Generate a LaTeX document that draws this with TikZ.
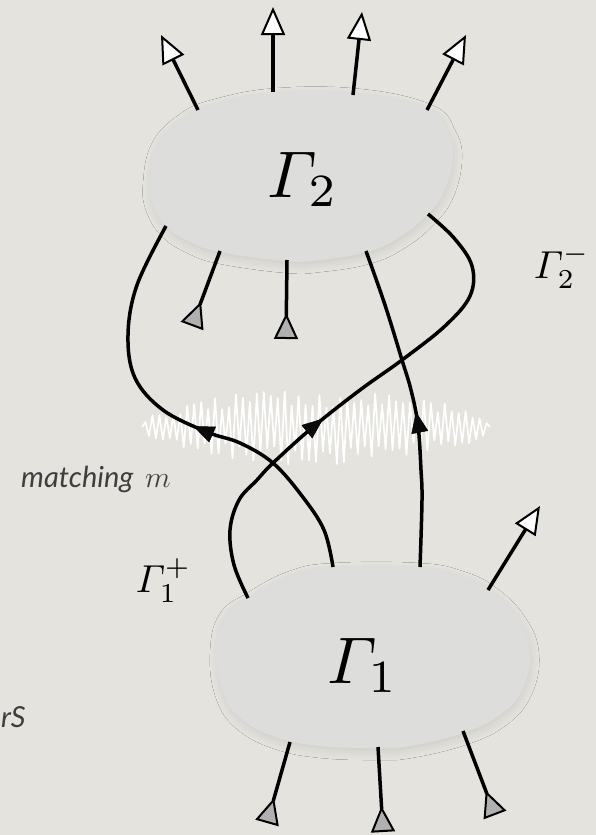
\documentclass[tikz,border=0pt]{standalone}
\usepackage{fontspec}
\newfontfamily\labelfont{Lato}
\usetikzlibrary{arrows.meta,decorations.markings,shadows.blur}
\DeclareMathSymbol{\GammaIt}{\mathord}{letters}{"00}
\definecolor{paper}{RGB}{229,227,221}
\definecolor{blobfill}{RGB}{221,221,220}
\definecolor{trigray}{RGB}{176,176,176}
\definecolor{textgray}{RGB}{62,62,62}
\tikzset{
  wire/.style={line width=3.5pt},
  outarrow/.style={wire, -{Triangle[fill=white, line width'=2pt, length=28pt, width=24pt]}},
  inarrow/.style={wire, -{Triangle[reversed, fill=trigray, line width'=2pt, length=26pt, width=24pt]}},
  flowcurve/.style={wire, postaction={decorate}, decoration={markings, mark=at position #1 with {\arrow{Triangle[length=21pt,width=17pt,line width'=0.5pt]}}}},
  blob/.style={fill=blobfill, blur shadow={shadow xshift=1pt, shadow yshift=-4pt, shadow blur radius=8pt, shadow opacity=9}},
  biglabel/.style={scale=6.6, inner sep=0pt},
  smalllabel/.style={scale=3.9, inner sep=0pt},
  sidetext/.style={inner sep=0pt, text=textgray, font=\labelfont\itshape\fontsize{29}{34}\selectfont},
}
\begin{document}
\begin{tikzpicture}[x=1pt,y=-1pt]
\useasboundingbox (0,0) rectangle (596,835);
\fill[paper] (0,0) rectangle (596,835);

% matching noise
\pgfmathsetseed{7}
\draw[white, line width=1.7pt, line join=round]
  plot[domain=0:100, samples=101]
  ({142+3.48*\x}, {427 + (1-2*mod(round(\x),2))*38*sqrt(abs(sin(1.8*\x)))*(0.5+0.5*rnd)});

% blobs
\fill[blob] plot[smooth cycle, tension=0.7] coordinates {(150,180) (158,143) (183,117) (215,103) (277,92) (360,93) (427,108) (447,130) (453,155) (445,190) (427,215) (400,237) (367,252) (320,260) (285,261) (220,252) (190,242) (167,227) (153,205)};
\fill[blob] plot[smooth cycle, tension=0.7] coordinates {(217,650) (225,615) (250,596) (290,575) (333,567) (418,567) (460,575) (490,590) (517,617) (530,650) (523,688) (500,715) (463,733) (410,746) (377,748) (320,746) (275,737) (240,718) (222,690)};

% ports of Gamma_2
\coordinate (p2t1) at (198,110); \coordinate (e2t1) at (161,35);
\coordinate (p2t2) at (273,92);  \coordinate (e2t2) at (273,7);
\coordinate (p2t3) at (353,95);  \coordinate (e2t3) at (362,12);
\coordinate (p2t4) at (427,110); \coordinate (e2t4) at (466,35);
\coordinate (p2b1) at (220,251); \coordinate (e2b1) at (192,326);
\coordinate (p2b2) at (287,260); \coordinate (e2b2) at (286,339);
\coordinate (g2a) at (166,226);
\coordinate (g2b) at (428,214);
\coordinate (g2c) at (366,251);
% ports of Gamma_1
\coordinate (g1a) at (333,567);
\coordinate (g1b) at (248,598);
\coordinate (g1c) at (420,567);
\coordinate (p1o) at (488,590); \coordinate (e1o) at (540,506);
\coordinate (p1b1) at (290,742); \coordinate (e1b1) at (267,823);
\coordinate (p1b2) at (378,747); \coordinate (e1b2) at (383,832);
\coordinate (p1b3) at (463,731); \coordinate (e1b3) at (495,815);

% external legs
\draw[outarrow] (p2t1) -- (e2t1);
\draw[outarrow] (p2t2) -- (e2t2);
\draw[outarrow] (p2t3) -- (e2t3);
\draw[outarrow] (p2t4) -- (e2t4);
\draw[inarrow] (p2b1) -- (e2b1);
\draw[inarrow] (p2b2) -- (e2b2);
\draw[outarrow] (p1o) -- (e1o);
\draw[inarrow] (p1b1) -- (e1b1);
\draw[inarrow] (p1b2) -- (e1b2);
\draw[inarrow] (p1b3) -- (e1b3);

% matched edges
\draw[flowcurve=0.47] plot[smooth, tension=0.6] coordinates {(g1a) (324,530) (302,496) (273,463) (240,443) (207,432) (163,410) (135,378) (128,335) (137,285) (g2a)};
\draw[flowcurve=0.43] plot[smooth, tension=0.6] coordinates {(g1b) (234,565) (230,530) (239,500) (257,480) (273,463) (313,427) (360,390) (402,360) (445,326) (470,296) (472,266) (454,238) (g2b)};
\draw[flowcurve=0.48] plot[smooth, tension=0.6] coordinates {(g1c) (422,500) (421,470) (418,425) (411,390) (402,360) (385,305) (g2c)};

% labels
\node[biglabel, anchor=base] (G2) at (303,197) {$\GammaIt_2$};
\node[biglabel, anchor=base] (G1) at (363,683) {$\GammaIt_1$};
\node[smalllabel, anchor=base west] (G2m) at (533,278) {$\GammaIt_2^-$};
\node[smalllabel, anchor=base west] (G1p) at (135,592) {$\GammaIt_1^+$};
\node[sidetext, anchor=base west] (match) at (21,487) {matching\, \scalebox{1.2}{$m$}};
\node[sidetext, anchor=base west] (rs) at (1,727) {rS};
\end{tikzpicture}
\end{document}
